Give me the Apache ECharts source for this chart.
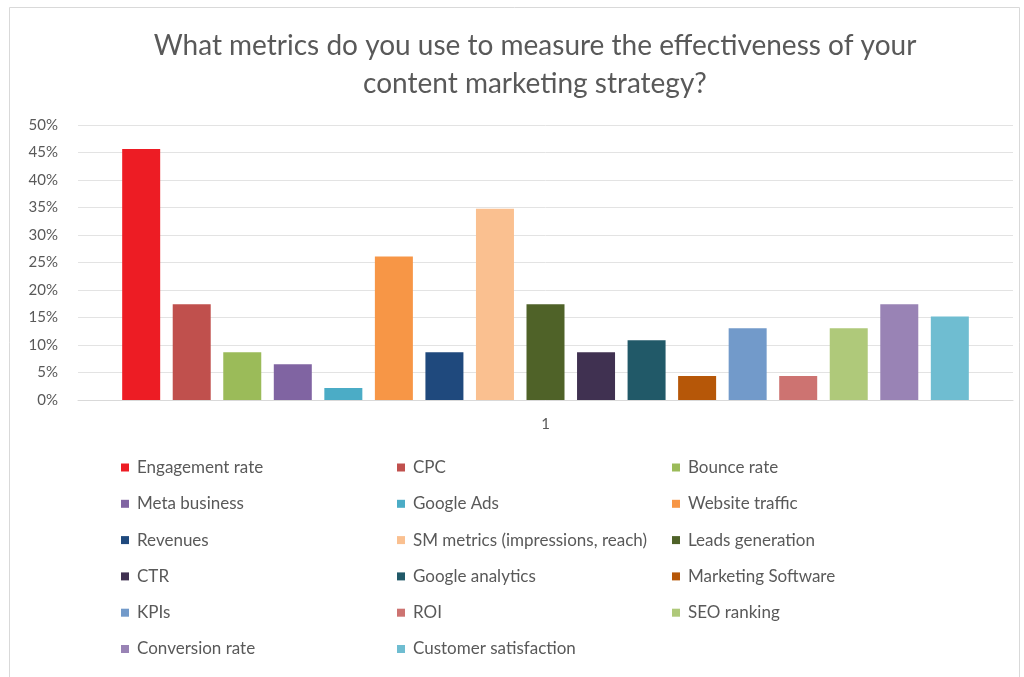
<!DOCTYPE html>
<html>
<head>
<meta charset="utf-8">
<script src="https://cdn.jsdelivr.net/npm/echarts@6/dist/echarts.min.js"></script>
<style>
html,body{margin:0;padding:0;background:#fff;}
#c{width:1024px;height:677px;}
</style>
</head>
<body>
<div id="c"></div>
<script>
const categories = ['1'];
const seriesNames = [
  'Engagement rate', 'CPC', 'Bounce rate',
  'Meta business', 'Google Ads', 'Website traffic',
  'Revenues', 'SM metrics (impressions, reach)', 'Leads generation',
  'CTR', 'Google analytics', 'Marketing Software',
  'KPIs', 'ROI', 'SEO ranking',
  'Conversion rate', 'Customer satisfaction'
];
const seriesValues = [
  45.65, 17.39, 8.7,
  6.52, 2.17, 26.09,
  8.7, 34.78, 17.39,
  8.7, 10.87, 4.35,
  13.04, 4.35, 13.04,
  17.39, 15.2
];
const seriesColors = [
  '#ED1C24', '#C0504D', '#9BBB59',
  '#8064A2', '#4BACC6', '#F79646',
  '#1F497D', '#FAC090', '#4F6228',
  '#403151', '#215968', '#B65708',
  '#729ACA', '#CD7371', '#AFC97A',
  '#9983B5', '#6FBDD1'
];
const yTicks = [0, 5, 10, 15, 20, 25, 30, 35, 40, 45, 50];

const FONT = 'Lato, "Open Sans", sans-serif';
const TXT = '#595959';

const series = seriesNames.map((n, i) => ({
  name: n,
  type: 'bar',
  data: [seriesValues[i]],
  barWidth: 38,
  barGap: '33%',
  itemStyle: { color: seriesColors[i] },
  emphasis: { disabled: true }
}));

const cols = [[], [], []];
seriesNames.forEach((n, i) => cols[i % 3].push(n));
const legendLefts = [116, 392, 667];
const legends = cols.map((d, k) => ({
  data: d,
  orient: 'vertical',
  left: legendLefts[k],
  top: 454,
  itemWidth: 8,
  itemHeight: 8,
  itemGap: 19.3,
  icon: 'rect',
  selectedMode: false,
  textStyle: { color: TXT, fontFamily: FONT, fontSize: 17, lineHeight: 17, padding: [0, 0, 0, 3] }
}));

const chart = echarts.init(document.getElementById('c'), null, { renderer: 'canvas' });
chart.setOption({
  animation: false,
  backgroundColor: '#fff',
  title: {
    text: 'What metrics do you use to measure the effectiveness of your\ncontent marketing strategy?',
    left: 530,
    textAlign: 'center',
    top: 22,
    textStyle: { color: TXT, fontFamily: FONT, fontSize: 28, fontWeight: 'normal', lineHeight: 38 }
  },
  graphic: [{
    type: 'rect',
    shape: { x: 9.5, y: 7.5, width: 1010, height: 700 },
    style: { fill: 'none', stroke: '#d9d9d9', lineWidth: 1 },
    silent: true
  }],
  legend: legends,
  grid: { left: 78, right: 11, top: 125, bottom: 277, containLabel: false },
  xAxis: {
    type: 'category',
    data: categories,
    axisTick: { show: false },
    axisLine: { lineStyle: { color: '#d9d9d9', width: 1 } },
    axisLabel: { color: TXT, fontFamily: FONT, fontSize: 15, margin: 17 }
  },
  yAxis: {
    type: 'value',
    min: yTicks[0],
    max: yTicks[yTicks.length - 1],
    interval: 5,
    axisLine: { show: false },
    axisTick: { show: false },
    splitLine: { lineStyle: { color: '#e3e3e3', width: 1 } },
    axisLabel: { color: TXT, fontFamily: FONT, fontSize: 15, margin: 20, formatter: v => v + '%' }
  },
  series: series
});
</script>
</body>
</html>
